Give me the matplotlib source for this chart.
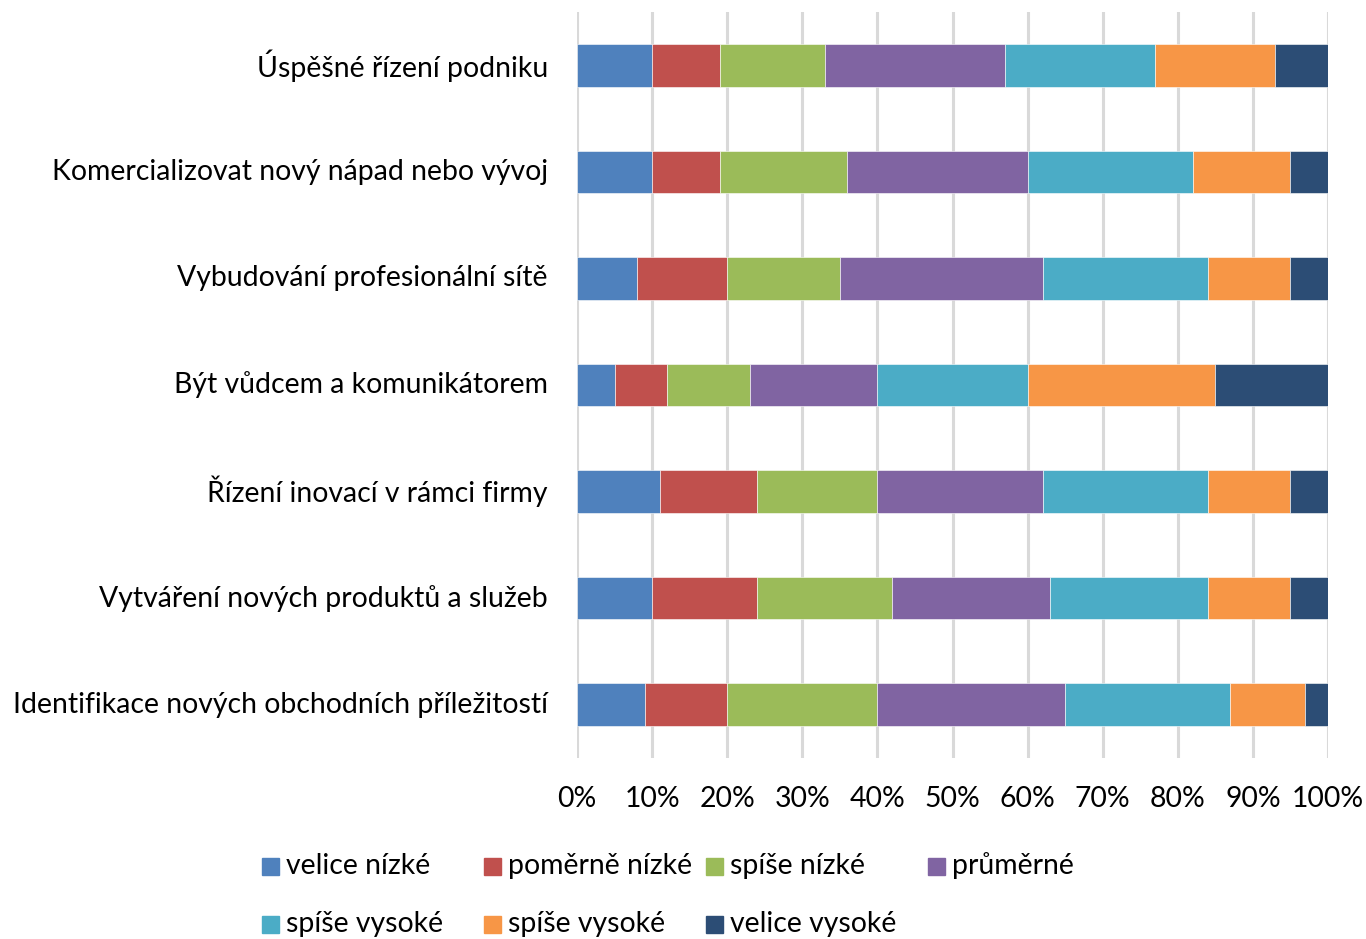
import numpy as np
import matplotlib.pyplot as plt
from matplotlib.patches import Rectangle

# categories bottom -> top
categories = ['Identifikace nových obchodních příležitostí',
              'Vytváření nových produktů a služeb',
              'Řízení inovací v rámci firmy',
              'Být vůdcem a komunikátorem',
              'Vybudování profesionální sítě',
              'Komercializovat nový nápad nebo vývoj',
              'Úspěšné řízení podniku']

series_names = ['velice nízké', 'poměrně nízké', 'spíše nízké', 'průměrné',
                'spíše vysoké', 'spíše vysoké', 'velice vysoké']
colors = ['#4F81BD', '#C0504D', '#9BBB59', '#8064A2', '#4BACC6', '#F79646', '#2C4D75']

# percentages per series, same order as categories
velice_nizke   = [9, 10, 11, 5, 8, 10, 10]
pomerne_nizke  = [11, 14, 13, 7, 12, 9, 9]
spise_nizke    = [20, 18, 16, 11, 15, 17, 14]
prumerne       = [25, 21, 22, 17, 27, 24, 24]
spise_vysoke1  = [22, 21, 22, 20, 22, 22, 20]
spise_vysoke2  = [10, 11, 11, 25, 11, 13, 16]
velice_vysoke  = [3, 5, 5, 15, 5, 5, 7]

series = [velice_nizke, pomerne_nizke, spise_nizke, prumerne,
          spise_vysoke1, spise_vysoke2, velice_vysoke]

plt.rcParams['font.family'] = ['Lato', 'DejaVu Sans']
fs = 20.4

fig = plt.figure(figsize=(13.66, 9.39), dpi=100)
W, H = 1366, 939
ax = fig.add_axes([577 / W, 1 - 758 / H, (1328 - 577) / W, (758 - 12) / H])

data = np.array(series, dtype=float)
data = data / data.sum(axis=0) * 100
y = np.arange(len(categories))
left = np.zeros(len(categories))
for vals, c in zip(data, colors):
    ax.barh(y, vals, left=left, height=0.4, color=c, edgecolor='white',
            linewidth=0.4, zorder=3)
    left += vals

ax.set_xlim(0, 100)
ax.set_ylim(-0.5, len(categories) - 0.5)
ax.set_xticks(np.arange(0, 101, 10))
ax.set_xticklabels(['%d%%' % v for v in range(0, 101, 10)])
ax.set_yticks(y)
ax.set_yticklabels(categories)
ax.grid(axis='x', color='#D9D9D9', linewidth=2.2, zorder=0)
for s in ax.spines.values():
    s.set_visible(False)
ax.tick_params(axis='both', length=0, labelsize=fs, colors='black')
ax.tick_params(axis='x', pad=20)
ax.tick_params(axis='y', pad=21)
for lbl in ax.get_yticklabels():
    lbl.set_va('center')

# legend, Excel style equal columns
xs = [262, 484, 706, 928]
ys = [866, 924]
sq = 17
for i, (name, c) in enumerate(zip(series_names, colors)):
    if i < 4:
        col, row = i, 0
    else:
        col, row = i - 4, 1
    x0, y0 = xs[col], ys[row]
    fig.add_artist(Rectangle((x0 / W, 1 - (y0 + sq / 2) / H), sq / W, sq / H,
                             transform=fig.transFigure, color=c))
    fig.text((x0 + sq + 7) / W, 1 - y0 / H, name, fontsize=fs,
             va='center', ha='left')

fig.savefig('out.png', dpi=100)
